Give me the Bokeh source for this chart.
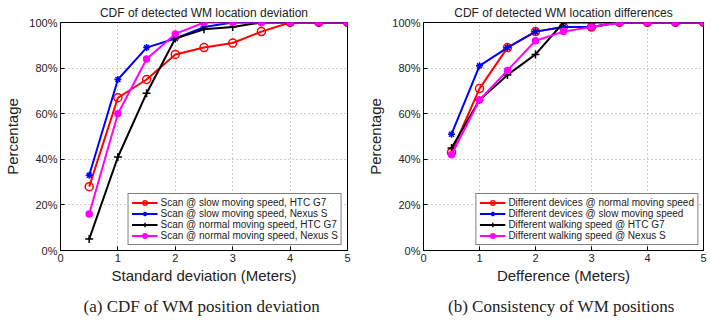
from bokeh.plotting import figure
from bokeh.layouts import row
from bokeh.models import Title, FixedTicker, CustomJSTickFormatter, Range1d
from bokeh.embed import file_html
from bokeh.resources import INLINE

x = [0.5, 1.0, 1.5, 2.0, 2.5, 3.0, 3.5, 4.0, 4.5, 5.0]

# Panel (a)
a_labels = ["Scan @ slow moving speed, HTC G7", "Scan @ slow moving speed, Nexus S",
            "Scan @ normal moving speed, HTC G7", "Scan @ normal moving speed, Nexus S"]
a_slow_htc = [28, 67, 75, 86, 89, 91, 96, 100, 100, 100]
a_slow_nexus = [33, 75, 89, 93, 98, 100, 100, 100, 100, 100]
a_norm_htc = [5, 41, 69, 93, 97, 98, 100, 100, 100, 100]
a_norm_nexus = [16, 60, 84, 95, 100, 100, 100, 100, 100, 100]

# Panel (b)
b_labels = ["Different devices @ normal moving speed", "Different devices @ slow moving speed",
            "Different walking speed @ HTC G7", "Different walking speed @ Nexus S"]
b_dev_norm = [43, 71, 89, 96, 98, 98, 100, 100, 100, 100]
b_dev_slow = [51, 81, 89, 96, 98, 98, 100, 100, 100, 100]
b_walk_htc = [45, 66, 77, 86, 100, 100, 100, 100, 100, 100]
b_walk_nexus = [42, 66, 79, 92, 96, 98, 100, 100, 100, 100]

x_ticks = [0, 1, 2, 3, 4, 5]
y_ticks = [0, 20, 40, 60, 80, 100]

SANS = "Liberation Sans"
SERIF = "Liberation Serif"

styles = [
    dict(color="#ff0000", marker="circle", fill=None, size=8),
    dict(color="#0000ff", marker="asterisk", fill=None, size=7),
    dict(color="#000000", marker="cross", fill=None, size=8),
    dict(color="#ff00ff", marker="circle", fill="#ff00ff", size=6),
]


def make_panel(title, xlabel, caption, series, labels, bl, fw, br):
    p = figure(output_backend="svg", toolbar_location=None,
               frame_width=fw, frame_height=228,
               min_border_left=bl, min_border_right=br,
               min_border_top=22, min_border_bottom=76,
               x_range=Range1d(0, 5), y_range=Range1d(0, 100))
    p.title.text = title
    p.title.text_font = SANS
    p.title.text_font_size = "12px"
    p.title.text_font_style = "normal"
    p.title.align = "center"
    p.title.text_color = "#222222"
    p.title.offset = 0
    p.title.standoff = 5

    p.outline_line_color = "black"
    p.outline_line_width = 1
    p.background_fill_color = "white"
    p.border_fill_color = "white"

    for ax in (p.xaxis[0], p.yaxis[0]):
        ax.axis_line_color = "black"
        ax.major_tick_in = 4
        ax.major_tick_out = 0
        ax.minor_tick_line_color = None
        ax.major_label_text_font = SANS
        ax.major_label_text_font_size = "11px"
        ax.major_label_text_color = "#222222"
        ax.axis_label_text_font = SANS
        ax.axis_label_text_font_size = "15px"
        ax.axis_label_text_font_style = "normal"
        ax.axis_label_text_color = "#222222"

    p.xaxis.ticker = FixedTicker(ticks=x_ticks)
    p.yaxis.ticker = FixedTicker(ticks=y_ticks)
    p.yaxis.formatter = CustomJSTickFormatter(code="return tick.toFixed(0) + '%';")
    p.xaxis.axis_label = xlabel
    p.yaxis.axis_label = "Percentage"
    p.xaxis.major_label_standoff = 3
    p.yaxis.major_label_standoff = 3
    p.xaxis.axis_label_standoff = 2
    p.yaxis.axis_label_standoff = 5

    p.grid.grid_line_color = "#999999"
    p.grid.grid_line_dash = "1 3"
    p.grid.grid_line_width = 1

    for ys, lab, st in zip(series, labels, styles):
        p.line(x, ys, line_color=st["color"], line_width=2, legend_label=lab)
        p.scatter(x, ys, marker=st["marker"], size=st["size"], line_color=st["color"],
                  line_width=1.5, fill_color=st["fill"], legend_label=lab)

    lg = p.legend[0]
    lg.location = "bottom_right"
    lg.margin = 5
    lg.padding = 3
    lg.spacing = 0
    lg.glyph_width = 26
    lg.glyph_height = 11
    lg.label_height = 11
    lg.label_standoff = 3
    lg.label_text_font = SANS
    lg.label_text_font_size = "10px"
    lg.label_text_color = "#222222"
    lg.border_line_color = "black"
    lg.border_line_width = 1
    lg.background_fill_alpha = 1

    cap = Title(text=caption, align="center", text_font=SERIF, text_font_size="17px",
                text_font_style="normal", text_color="#222222", standoff=16)
    p.add_layout(cap, "below")
    return p


pa = make_panel("CDF of detected WM location deviation", "Standard deviation (Meters)",
                "(a)  CDF of WM position deviation",
                [a_slow_htc, a_slow_nexus, a_norm_htc, a_norm_nexus], a_labels, 60, 287, 16)
pb = make_panel("CDF of detected WM location differences", "Defference (Meters)",
                "(b)  Consistency of WM positions",
                [b_dev_norm, b_dev_slow, b_walk_htc, b_walk_nexus], b_labels, 60, 280, 7)

layout = row(pa, pb, spacing=0)
open("out.html", "w").write(file_html(layout, INLINE))
